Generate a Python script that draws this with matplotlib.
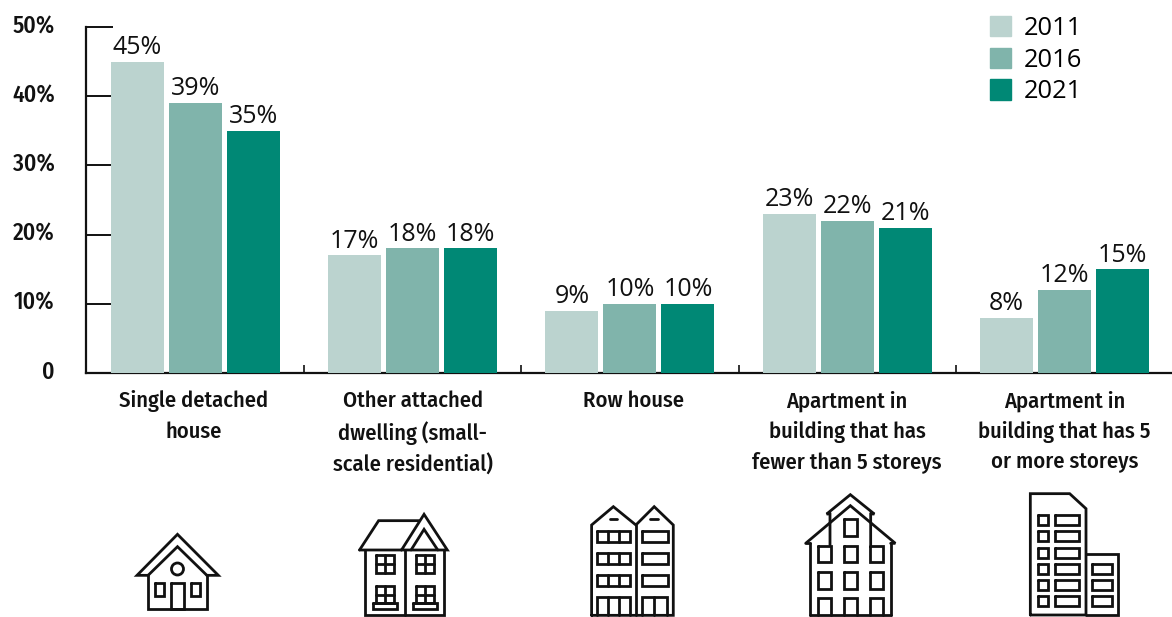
import matplotlib
matplotlib.use("Agg")
import matplotlib.pyplot as plt
from matplotlib.patches import Patch, Circle
from matplotlib.transforms import ScaledTranslation

categories = ["Single detached\nhouse", "Other attached\ndwelling (small-\nscale residential)", "Row house",
              "Apartment in\nbuilding that has\nfewer than 5 storeys", "Apartment in\nbuilding that has 5\nor more storeys"]
years = ["2011", "2016", "2021"]
v2011 = [45, 17, 9, 23, 8]
v2016 = [39, 18, 10, 22, 12]
v2021 = [35, 18, 10, 21, 15]
colors = ["#bbd3cf", "#80b4ab", "#008875"]
yticks = [0, 10, 20, 30, 40, 50]
ylabels = ["0", "10%", "20%", "30%", "40%", "50%"]
label_nudge = [-2, 0, 3.5, 0, 0]

W, H = 1172, 617
fig = plt.figure(figsize=(W/100, H/100), dpi=100)
L, R, T, B = 86, 1172, 27, 373
ax = fig.add_axes([L/W, 1-B/H, (R-L)/W, (B-T)/H])
unit = 217.2
ax.set_xlim((L-195.5)/unit, (R-195.5)/unit)
ax.set_ylim(0, 50)
narrow = ["Fira Sans Condensed", "Liberation Sans Narrow", "Liberation Sans", "DejaVu Sans"]
body = ["Open Sans", "DejaVu Sans"]
NW = 500
bw, step = 53/unit, 58/unit
for k, (vals, c, y) in enumerate(zip([v2011, v2016, v2021], colors, years)):
    xs = [i + (k-1)*step for i in range(len(vals))]
    ax.bar(xs, vals, bw, color=c, zorder=3, label=y)
    for x, v in zip(xs, vals):
        ax.annotate(f"{v}%", (x, v), xytext=(0, 5.5), textcoords="offset points", ha="center", va="baseline",
                    fontsize=18, family=body, color="#111111", zorder=4)
for s in ["top", "right"]:
    ax.spines[s].set_visible(False)
for s in ["left", "bottom"]:
    ax.spines[s].set_linewidth(1.6)
    ax.spines[s].set_color("#111111")
ax.set_yticks(yticks, ylabels, fontsize=17, family=narrow, fontweight=NW, color="#111111")
ax.tick_params(axis="y", direction="in", length=19.5, width=1.4, pad=22.5, color="#111111")
up = ScaledTranslation(0, 3/100, fig.dpi_scale_trans)
for lab in ax.get_yticklabels():
    lab.set_transform(lab.get_transform() + up)
ax.set_xticks([i+0.5 for i in range(4)])
ax.set_xticklabels([])
ax.tick_params(axis="x", direction="in", length=6, width=1.2, color="#111111")
for i, c in enumerate(categories):
    ax.annotate(c, (i, 0), xytext=(label_nudge[i]*0.72, -12.5), textcoords="offset points", ha="center", va="top",
                fontsize=16.2, family=narrow, fontweight=NW, color="#111111", linespacing=1.52, annotation_clip=False)
handles = [Patch(color=c, label=y) for c, y in zip(colors, years)]
ax.legend(handles=handles, loc="upper left", bbox_to_anchor=((990-L)/(R-L), 1+(T-16)/(B-T)), frameon=False,
          prop={"family": body, "size": 18.4}, handlelength=0.84, handleheight=0.84, handletextpad=0.5, labelspacing=0.26, borderpad=0, borderaxespad=0)

# decorative building pictograms, drawn in figure pixels
ic = fig.add_axes([0, 0, 1, 1], zorder=5)
ic.set_xlim(0, W); ic.set_ylim(H, 0); ic.axis("off"); ic.patch.set_alpha(0)
lw = 2.0
def line(*pts, closed=False):
    xs = [p[0] for p in pts]; ys = [p[1] for p in pts]
    if closed:
        xs.append(xs[0]); ys.append(ys[0])
    ic.plot(xs, ys, color="#111111", lw=lw, solid_joinstyle="miter", solid_capstyle="round")
def box(x0, y0, x1, y1):
    line((x0, y0), (x1, y0), (x1, y1), (x0, y1), closed=True)

# detached house
Z = lambda x, y: (100+x/2.62, 490+y/3)
line(Z(126,256), Z(97,256), Z(203,133), Z(310,256), Z(280,256))
line(Z(126,256), Z(203,170), Z(280,256))
line(Z(126,256), Z(126,357), Z(280,357), Z(280,256))
box(*Z(143,280), *Z(167,319)); box(*Z(238,280), *Z(263,319)); box(*Z(187,280), *Z(219,357))
ic.add_patch(Circle(Z(203,237), 6.0, fill=False, ec="#111111", lw=lw))
# attached
line(Z(680,180), Z(730,92), Z(836,92))
line(Z(680,180), Z(910,180), Z(849,73), Z(790,180))
line(Z(815,180), Z(849,118), Z(885,180))
line(Z(694,180), Z(694,376), Z(902,376), Z(902,180)); line(Z(798,180), Z(798,376))
for xc in (746, 851):
    box(*Z(xc-23,196), *Z(xc+23,248)); line(Z(xc,196), Z(xc,248)); line(Z(xc-23,222), Z(xc+23,222))
    box(*Z(xc-23,288), *Z(xc+23,340)); line(Z(xc,288), Z(xc,340)); line(Z(xc-23,314), Z(xc+23,314))
    box(*Z(xc-31,340), *Z(xc+31,356))
# row
line(Z(1288,376), Z(1288,105), Z(1345,50), Z(1404,105), Z(1452,50), Z(1502,105), Z(1502,376), closed=True)
line(Z(1404,105), Z(1404,376))
line(Z(1335,86), Z(1355,86)); line(Z(1442,86), Z(1462,86))
for y0 in (122, 188, 254):
    box(*Z(1301,y0), *Z(1388,y0+34)); line(Z(1330,y0), Z(1330,y0+34)); line(Z(1359,y0), Z(1359,y0+34))
    box(*Z(1419,y0), *Z(1487,y0+34))
line(Z(1301,376), Z(1301,322), Z(1388,322), Z(1388,376)); line(Z(1330,322), Z(1330,376)); line(Z(1359,322), Z(1359,376))
line(Z(1419,376), Z(1419,322), Z(1485,322), Z(1485,376)); line(Z(1452,322), Z(1452,376))
# low-rise apartment
Y = lambda x, y: (780+x/3, 480+y/3)
line(Y(90,405), Y(90,190)); line(Y(332,405), Y(332,190)); line(Y(90,405), Y(332,405))
line(Y(77,190), Y(211,77), Y(346,190), Y(332,190)); line(Y(77,190), Y(90,190))
line(Y(150,195), Y(150,102), Y(140,102), Y(211,44), Y(283,102), Y(272,102), Y(272,195))
box(*Y(192,118), *Y(231,167))
for x0 in (113, 192, 271):
    box(*Y(x0,197), *Y(x0+39,247)); box(*Y(x0,276), *Y(x0+39,326))
    line(Y(x0,405), Y(x0,355), Y(x0+39,355), Y(x0+39,405))
# tower
line(Y(751,405), Y(751,41), Y(869,41), Y(918,86), Y(918,405), closed=True)
line(Y(918,223), Y(1013,223), Y(1013,405), Y(918,405))
for y0 in (106, 154, 203, 251, 300, 347):
    box(*Y(775,y0), *Y(805,y0+30)); box(*Y(826,y0), *Y(897,y0+30))
for y0 in (251, 300, 347):
    box(*Y(936,y0), *Y(996,y0+30))
fig.savefig("out.png", dpi=100)
